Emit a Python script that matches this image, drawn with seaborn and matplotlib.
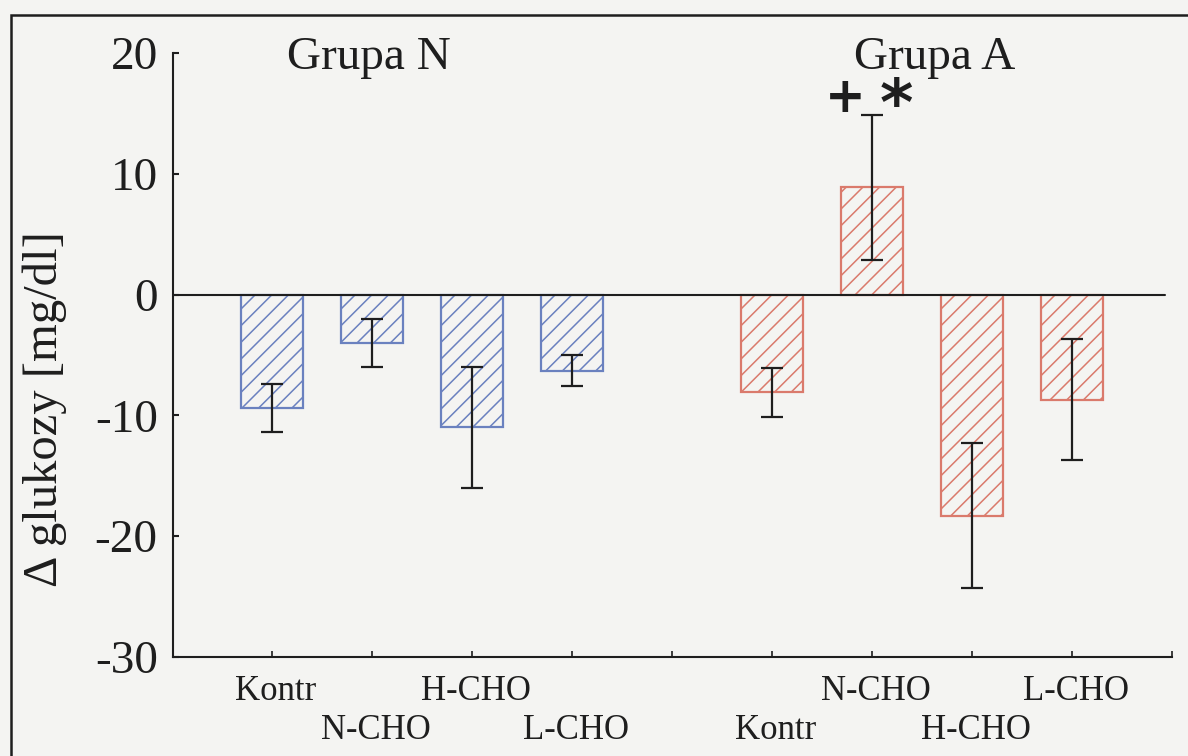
import matplotlib
matplotlib.use("Agg")
import matplotlib.pyplot as plt
import matplotlib.transforms as mtransforms
from matplotlib.patches import Rectangle
import numpy as np
import pandas as pd
import seaborn as sns

# Change in blood glucose [mg/dl] per diet variant, two subject groups
categories = ["Kontr", "N-CHO", "H-CHO", "L-CHO"]
group_names = ["Grupa N", "Grupa A"]
group_n_mean = [-9.4, -4.0, -11.0, -6.3]
group_n_err = [2.0, 2.0, 5.0, 1.3]
group_a_mean = [-8.1, 8.9, -18.3, -8.7]
group_a_err = [2.0, 6.0, 6.0, 5.0]
y_ticks = [-30, -20, -10, 0, 10, 20]

positions = [0, 1, 2, 3, 5, 6, 7, 8]
df = pd.DataFrame({
    "pos": positions,
    "value": group_n_mean + group_a_mean,
    "err": group_n_err + group_a_err,
    "group": [group_names[0]] * 4 + [group_names[1]] * 4,
    "label": categories + categories,
})

BG = "#f4f4f2"
INK = "#1e1e1e"
BLUE = "#6a81bf"
RED = "#da7a6c"

sns.set_style("ticks")
plt.rcParams["font.family"] = ["Liberation Serif", "DejaVu Serif"]
plt.rcParams["hatch.linewidth"] = 1.1

fig = plt.figure(figsize=(11.88, 7.56), dpi=100, facecolor=BG)
ax = fig.add_axes([173 / 1188, 1 - 657 / 756, (1172 - 173) / 1188, (657 - 53) / 756])
ax.set_facecolor("none")

palette = {group_names[0]: BLUE, group_names[1]: RED}
sns.barplot(data=df, x="pos", y="value", hue="group", palette=palette,
            native_scale=True, dodge=False, width=0.62, legend=False,
            errorbar=None, ax=ax)

for patch, grp in zip(ax.patches, df["group"]):
    col = palette[grp]
    patch.set_facecolor("none")
    patch.set_edgecolor(col)
    patch.set_linewidth(1.6)
    patch.set_hatch("//")

ax.errorbar(df["pos"], df["value"], yerr=df["err"], fmt="none",
            ecolor=INK, elinewidth=1.6, capsize=8, capthick=1.6, zorder=5)

ax.set_xlim(-0.99, 9.0)
ax.set_ylim(-30, 20)
ax.axhline(0, xmin=0, xmax=(8.93 + 0.99) / 9.99, color=INK, lw=1.5, zorder=4)

for side in ("top", "right"):
    ax.spines[side].set_visible(False)
for side in ("left", "bottom"):
    ax.spines[side].set_color(INK)
    ax.spines[side].set_linewidth(1.5)

ax.set_yticks(y_ticks)
ax.set_yticklabels([str(v) for v in y_ticks])
ax.tick_params(axis="y", direction="in", length=4, width=1.5, colors=INK,
               labelsize=34, pad=11)
ax.set_xticks(list(range(10)))
ax.set_xticklabels([""] * 10)
ax.tick_params(axis="x", direction="in", length=4, width=1.2, colors=INK)
ax.set_xlabel("")
ax.set_ylabel("")

# staggered category labels under the bars
trans = mtransforms.blended_transform_factory(ax.transData, ax.transAxes)
upper_y = (657 - 700) / 604
lower_y = (657 - 739) / 604
for i, (p, lab) in enumerate(zip(df["pos"], df["label"])):
    grp_idx = 0 if i < 4 else 1
    upper = (i % 2 == 0) if grp_idx == 0 else (i % 2 == 1)
    ax.text(p + 0.04, upper_y if upper else lower_y, lab, transform=trans,
            ha="center", va="baseline", fontsize=25, color=INK)

# group headings
ax.text(0.97, 18.7, group_names[0], ha="center", va="baseline", fontsize=34, color=INK)
ax.text(6.63, 18.7, group_names[1], ha="center", va="baseline", fontsize=34, color=INK)

# significance markers above the A / N-CHO bar
ax.text(5.73, 15.1, "+", ha="center", va="baseline", fontsize=35,
        fontweight="bold", family=["DejaVu Sans"], color=INK)
ax.text(6.24, 14.0, "*", ha="center", va="baseline", fontsize=46,
        fontweight="bold", family=["DejaVu Sans"], color=INK)

fig.text(45 / 1188, 1 - 409 / 756, "Δ glukozy [mg/dl]", rotation=90,
         ha="center", va="center", fontsize=35, color=INK)

# page frame
fig.patches.append(Rectangle((11 / 1188, -0.1), 1.2, 1 - 15 / 756 + 0.1,
                             transform=fig.transFigure, fill=False,
                             edgecolor=INK, lw=1.8, zorder=0))

fig.savefig("out.png", dpi=100, facecolor=BG)
